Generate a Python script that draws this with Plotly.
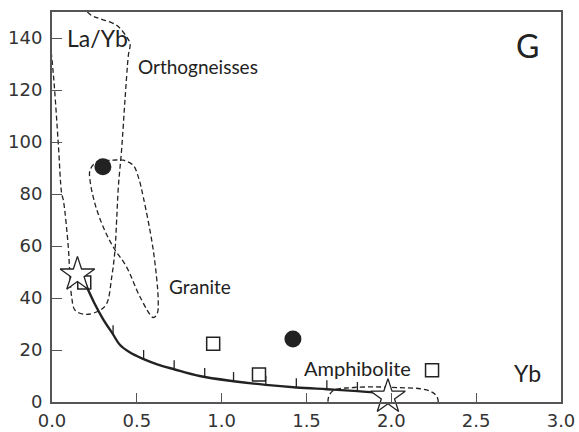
import plotly.graph_objects as go

# ---- data ----
circle_x = [0.30, 1.42]
circle_y = [90.5, 24.2]

square_x = [0.19, 0.95, 1.22, 2.24]
square_y = [46.0, 22.4, 10.6, 12.2]

star_x = [0.15, 1.98]
star_y = [49.0, 2.0]

# mixing curve (solid)
curve_x = [0.20, 0.25, 0.30, 0.36, 0.40, 0.46, 0.54, 0.62, 0.72, 0.87, 1.07, 1.26, 1.44, 1.62, 1.80, 1.98]
curve_y = [45.0, 38.0, 32.0, 26.0, 22.0, 19.0, 16.5, 14.5, 12.6, 10.0, 8.0, 6.6, 5.6, 4.9, 4.2, 3.3]

# increment ticks on the curve
tick_x = [0.36, 0.54, 0.72, 0.90, 1.07, 1.26, 1.44, 1.62, 1.80]
tick_y = [26.0, 16.5, 12.6, 9.6, 8.0, 6.6, 5.6, 4.9, 4.2]

# dashed fields
ortho_x = [-0.03, 0.008, 0.037, 0.057, 0.067, 0.096, 0.106, 0.116, 0.136, 0.204, 0.283, 0.322,
           0.352, 0.371, 0.381, 0.391, 0.41, 0.43, 0.45, 0.46, 0.44, 0.381, 0.283, 0.224, 0.10, -0.05]
ortho_y = [150, 126, 99.4, 80.2, 77.6, 59.6, 48.0, 40.4, 35.3, 33.7, 35.3, 37.8,
           48.0, 58.3, 69.9, 82.7, 96.8, 116, 133.3, 137.8, 140.4, 144.9, 147.4, 149.1, 158, 158]

granite_x = [0.224, 0.263, 0.361, 0.42, 0.479, 0.509, 0.538, 0.597, 0.626, 0.62, 0.597,
             0.519, 0.44, 0.361, 0.302, 0.253, 0.224, 0.224]
granite_y = [89.1, 92.3, 93.0, 93.0, 91.0, 86.5, 78.8, 58.3, 39.0, 34.0, 32.5,
             40.4, 51.9, 59.6, 67.3, 76.3, 85.3, 89.1]

amph_x = [1.63, 1.63, 1.66, 1.756, 1.91, 2.05, 2.17, 2.24, 2.27, 2.28]
amph_y = [-3, 1.9, 4.5, 5.5, 5.8, 5.5, 5.1, 3.8, 1.9, -3]

x_ticks = [0.0, 0.5, 1.0, 1.5, 2.0, 2.5, 3.0]
y_ticks = [0, 20, 40, 60, 80, 100, 120, 140]

FONT = "Lato"
TICKFONT = "DejaVu Sans"
INK = "#222222"

fig = go.Figure()

for fx, fy in [(ortho_x, ortho_y), (granite_x, granite_y), (amph_x, amph_y)]:
    fig.add_trace(go.Scatter(x=fx, y=fy, mode="lines", line_shape="spline",
                             line=dict(color=INK, width=1.3, dash="5px,3px"),
                             hoverinfo="skip", showlegend=False))

fig.add_trace(go.Scatter(x=curve_x, y=curve_y, mode="lines", line_shape="spline",
                         line=dict(color=INK, width=2.4), showlegend=False))

seg_x, seg_y = [], []
for tx, ty in zip(tick_x, tick_y):
    seg_x += [tx, tx, None]
    seg_y += [ty, ty + 3.5, None]
fig.add_trace(go.Scatter(x=seg_x, y=seg_y, mode="lines",
                         line=dict(color=INK, width=1.3), showlegend=False))

fig.add_trace(go.Scatter(x=circle_x, y=circle_y, mode="markers",
                         marker=dict(symbol="circle", size=17, color=INK), showlegend=False))
fig.add_trace(go.Scatter(x=square_x, y=square_y, mode="markers",
                         marker=dict(symbol="square-open", size=13, color=INK,
                                     line=dict(width=1.5)), showlegend=False))
fig.add_trace(go.Scatter(x=star_x, y=star_y, mode="markers", cliponaxis=False,
                         marker=dict(symbol="star", size=26, color="white",
                                     line=dict(color=INK, width=1.3)), showlegend=False))

annos = [
    dict(x=0.075, y=140, text="La/Yb", size=23, xanchor="left"),
    dict(x=0.495, y=129, text="Orthogneisses", size=19, xanchor="left"),
    dict(x=0.68, y=44.5, text="Granite", size=19, xanchor="left"),
    dict(x=1.475, y=13, text="Amphibolite", size=20, xanchor="left"),
    dict(x=2.895, y=11, text="Yb", size=23, xanchor="right"),
    dict(x=2.88, y=137, text="G", size=32, xanchor="right"),
]
for a in annos:
    fig.add_annotation(x=a["x"], y=a["y"], text=a["text"], showarrow=False,
                       xanchor=a["xanchor"], yanchor="middle",
                       font=dict(family=FONT, size=a["size"], color=INK))

fig.update_xaxes(range=[0, 3.0], tickvals=x_ticks, ticktext=[f"{v:.1f}" for v in x_ticks],
                 ticks="inside", ticklen=9, tickwidth=1.2, tickcolor="#555",
                 showline=True, linecolor="#555", linewidth=2, mirror=True,
                 showgrid=False, zeroline=False, automargin=False, ticklabelstandoff=1,
                 tickfont=dict(family=TICKFONT, size=18, color="#333"))
fig.update_yaxes(range=[0, 150], tickvals=y_ticks,
                 ticks="inside", ticklen=10, tickwidth=1.2, tickcolor="#555",
                 showline=True, linecolor="#555", linewidth=2, mirror=True,
                 showgrid=False, zeroline=False, automargin=False, ticklabelstandoff=4,
                 tickfont=dict(family=TICKFONT, size=18, color="#333"))

fig.update_layout(width=579, height=432, margin=dict(l=52, r=18, t=12, b=30),
                  plot_bgcolor="white", paper_bgcolor="white")

fig.write_html("out.html")
